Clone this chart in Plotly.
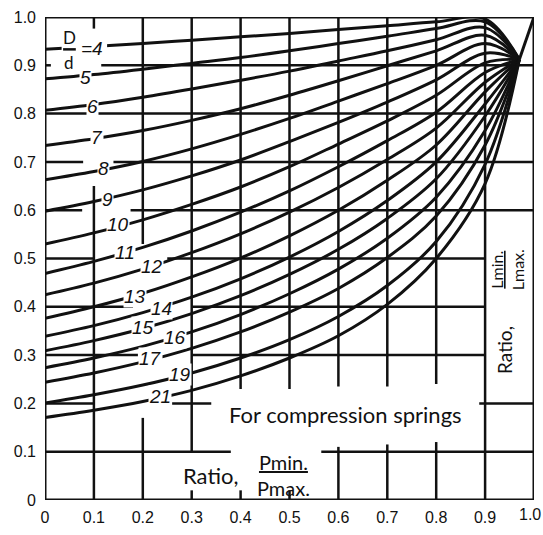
import plotly.graph_objects as go

# Abscissa stations (ratio Pmin/Pmax) at which each curve was read
x_pts = [0.0, 0.1, 0.2, 0.3, 0.4, 0.5, 0.6, 0.7, 0.8, 0.9]

# Spring index D/d of each curve
spring_index = [4, 5, 6, 7, 8, 9, 10, 11, 12, 13, 14, 15, 16, 17, 19, 21]

# Ratio Lmin/Lmax of each curve at the stations above
ratio_4 = [0.933, 0.939, 0.945, 0.952, 0.959, 0.966, 0.974, 0.982, 0.990, 0.996]
ratio_5 = [0.872, 0.881, 0.892, 0.904, 0.916, 0.930, 0.945, 0.960, 0.976, 0.990]
ratio_6 = [0.807, 0.819, 0.834, 0.851, 0.869, 0.888, 0.909, 0.930, 0.953, 0.978]
ratio_7 = [0.734, 0.748, 0.765, 0.786, 0.810, 0.838, 0.868, 0.899, 0.930, 0.962]
ratio_8 = [0.663, 0.680, 0.701, 0.727, 0.757, 0.790, 0.826, 0.862, 0.900, 0.945]
ratio_9 = [0.598, 0.618, 0.642, 0.671, 0.704, 0.742, 0.782, 0.824, 0.870, 0.925]
ratio_10 = [0.530, 0.553, 0.580, 0.612, 0.648, 0.690, 0.737, 0.785, 0.838, 0.905]
ratio_11 = [0.469, 0.494, 0.523, 0.557, 0.596, 0.640, 0.690, 0.744, 0.803, 0.885]
ratio_12 = [0.425, 0.449, 0.478, 0.512, 0.551, 0.596, 0.647, 0.705, 0.770, 0.865]
ratio_13 = [0.376, 0.400, 0.428, 0.462, 0.501, 0.547, 0.600, 0.662, 0.735, 0.845]
ratio_14 = [0.339, 0.361, 0.388, 0.420, 0.458, 0.503, 0.556, 0.620, 0.700, 0.820]
ratio_15 = [0.309, 0.330, 0.355, 0.386, 0.423, 0.467, 0.519, 0.583, 0.665, 0.795]
ratio_16 = [0.274, 0.294, 0.318, 0.348, 0.384, 0.427, 0.478, 0.542, 0.627, 0.765]
ratio_17 = [0.244, 0.263, 0.286, 0.314, 0.348, 0.389, 0.438, 0.502, 0.588, 0.735]
ratio_19 = [0.201, 0.218, 0.238, 0.263, 0.294, 0.332, 0.380, 0.444, 0.535, 0.695]
ratio_21 = [0.171, 0.186, 0.204, 0.227, 0.257, 0.294, 0.340, 0.405, 0.500, 0.655]

# Point where the family meets before the common run to (1, 1)
node = (0.97, 0.912)
end = (1.0, 1.0)

tick_vals = [0, 0.1, 0.2, 0.3, 0.4, 0.5, 0.6, 0.7, 0.8, 0.9]
x_tick_text = ["0", "0.1", "0.2", "0.3", "0.4", "0.5", "0.6", "0.7", "0.8", "0.9"]
y_tick_vals = [0, 0.1, 0.2, 0.3, 0.4, 0.5, 0.6, 0.7, 0.8, 0.9, 1.0]
y_tick_text = ["0", "0.1", "0.2", "0.3", "0.4", "0.5", "0.6", "0.7", "0.8", "0.9", "1.0"]

curves = [ratio_4, ratio_5, ratio_6, ratio_7, ratio_8, ratio_9, ratio_10, ratio_11,
          ratio_12, ratio_13, ratio_14, ratio_15, ratio_16, ratio_17, ratio_19, ratio_21]

INK = "#111111"
fig = go.Figure()

for k, ys in zip(spring_index, curves):
    fig.add_trace(go.Scatter(
        x=x_pts + [node[0]], y=ys + [node[1]], mode="lines",
        line=dict(color=INK, width=3, shape="spline", smoothing=1.0),
        name=f"D/d={k}", hoverinfo="skip", showlegend=False))

fig.add_trace(go.Scatter(x=[node[0], end[0]], y=[node[1], end[1]], mode="lines",
                         line=dict(color=INK, width=3), showlegend=False,
                         hoverinfo="skip"))

# Grid: drafted line segments, broken where lettering sits
vertical_runs = {
    0.1: [(1.0, 0.976), (0.65, 0.0)],
    0.2: [(1.0, 0.53), (0.17, 0.0)],
    0.3: [(1.0, 0.1), (0.02, 0.0)],
    0.4: [(1.0, 0.23), (0.02, 0.0)],
    0.5: [(1.0, 0.23), (0.02, 0.0)],
    0.6: [(1.0, 0.235), (0.11, 0.0)],
    0.7: [(1.0, 0.235), (0.115, 0.0)],
    0.8: [(1.0, 0.24), (0.12, 0.0)],
    0.9: [(1.0, 0.0)],
}
horizontal_runs = {
    0.9: [(0.0, 0.012), (0.115, 1.0)],
    0.8: [(0.0, 1.0)],
    0.7: [(0.0, 0.078), (0.14, 1.0)],
    0.6: [(0.0, 0.076), (0.175, 1.0)],
    0.5: [(0.0, 0.10), (0.25, 0.9)],
    0.4: [(0.0, 0.18), (0.30, 0.9)],
    0.3: [(0.0, 0.19), (0.30, 0.9)],
    0.2: [(0.0, 0.10), (0.26, 0.34), (0.888, 1.0)],
    0.1: [(0.0, 0.38), (0.565, 1.0)],
}
shapes = []
for xv, runs in vertical_runs.items():
    for y0, y1 in runs:
        shapes.append(dict(type="line", x0=xv, x1=xv, y0=y0, y1=y1, xref="x", yref="y",
                           line=dict(color=INK, width=2.5), layer="below"))
for yv, runs in horizontal_runs.items():
    for x0, x1 in runs:
        shapes.append(dict(type="line", x0=x0, x1=x1, y0=yv, y1=yv, xref="x", yref="y",
                           line=dict(color=INK, width=2.5), layer="below"))
shapes.append(dict(type="rect", x0=0, x1=1, y0=0, y1=1, xref="x", yref="y",
                   line=dict(color=INK, width=3), layer="above"))
# opening in the D/d=4 curve for its label, then the fraction bar of D/d
shapes.append(dict(type="rect", x0=0.034, x1=0.127, y0=0.918, y1=0.952, xref="x",
                   yref="y", fillcolor="white", line=dict(width=0), layer="above"))
shapes.append(dict(type="line", x0=0.037, x1=0.063, y0=0.933, y1=0.933, xref="x",
                   yref="y", line=dict(color=INK, width=2.5), layer="above"))

LABEL_FONT = dict(family="Liberation Sans", size=19, color=INK, style="italic")
curve_labels = [
    ("5", 0.082, 0.874), ("6", 0.098, 0.815), ("7", 0.106, 0.750), ("8", 0.119, 0.686),
    ("9", 0.127, 0.623), ("10", 0.149, 0.570), ("11", 0.164, 0.513), ("12", 0.219, 0.483),
    ("13", 0.184, 0.422), ("14", 0.239, 0.396), ("15", 0.200, 0.357), ("16", 0.266, 0.337),
    ("17", 0.215, 0.292), ("19", 0.276, 0.260), ("21", 0.235, 0.215),
]
annotations = []
for txt, ax, ay in curve_labels:
    annotations.append(dict(x=ax, y=ay, xref="x", yref="y", text=txt, showarrow=False,
                            font=LABEL_FONT, bgcolor="white", borderpad=0))

TEXT_FONT = dict(family="Lato", size=22, color=INK)
FRAC_FONT = dict(family="Lato", size=20, color=INK)
annotations += [
    dict(x=0.05, y=0.957, xref="x", yref="y", text="D", showarrow=False,
         font=dict(family="Lato", size=17, color=INK)),
    dict(x=0.05, y=0.906, xref="x", yref="y", text="d", showarrow=False,
         font=dict(family="Lato", size=17, color=INK)),
    dict(x=0.096, y=0.935, xref="x", yref="y", text="=4", showarrow=False,
         font=LABEL_FONT),
    dict(x=0.615, y=0.178, xref="x", yref="y", text="For compression springs",
         showarrow=False, font=TEXT_FONT, bgcolor="white", borderpad=1),
    dict(x=0.339, y=0.051, xref="x", yref="y", text="Ratio,", showarrow=False,
         font=TEXT_FONT),
    dict(x=0.487, y=0.052, xref="x", yref="y",
         text="<span style='text-decoration:underline'>Pmin.</span><br>Pmax.",
         showarrow=False, font=FRAC_FONT),
    dict(x=0.94, y=0.31, xref="x", yref="y", text="Ratio,", textangle=-90,
         showarrow=False, font=dict(family="Lato", size=19, color=INK)),
    dict(x=0.944, y=0.477, xref="x", yref="y",
         text="<span style='text-decoration:underline'>Lmin.</span><br>Lmax.",
         textangle=-90, showarrow=False, font=dict(family="Lato", size=16, color=INK)),
    # last abscissa label sits on the right edge of the page
    dict(x=1.0, y=0, xref="paper", yref="paper", yanchor="middle", yshift=-14,
         xanchor="right", xshift=9, text="1.0", showarrow=False,
         font=dict(family="Liberation Sans", size=16, color=INK)),
]

TICK_FONT = dict(family="Liberation Sans", size=16, color=INK)
fig.update_layout(
    width=543, height=535,
    margin=dict(l=45, r=9, t=15, b=27),
    paper_bgcolor="white", plot_bgcolor="white",
    shapes=shapes, annotations=annotations,
    xaxis=dict(range=[0, 1], showgrid=False, zeroline=False, showline=False,
               tickvals=tick_vals, ticktext=x_tick_text, ticks="",
               tickfont=TICK_FONT, ticklabelstandoff=6, fixedrange=True),
    yaxis=dict(range=[0, 1], showgrid=False, zeroline=False, showline=False,
               tickvals=y_tick_vals, ticktext=y_tick_text, ticks="",
               tickfont=TICK_FONT, ticklabelstandoff=8, fixedrange=True),
)

fig.write_html("out.html")
